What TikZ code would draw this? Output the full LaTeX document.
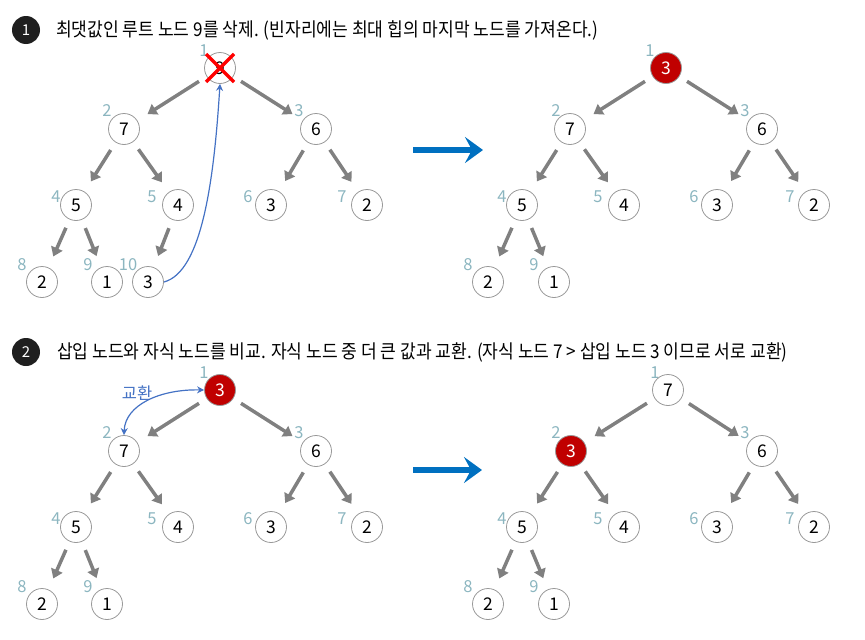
\documentclass[tikz,border=0pt]{standalone}
\usepackage{fontspec}
\setmainfont{Noto Sans CJK KR}
\newfontfamily\hdfont[FakeStretch=0.9]{Noto Sans CJK KR}
\usetikzlibrary{arrows.meta}
\definecolor{lblc}{RGB}{140,182,192}
\definecolor{edgec}{RGB}{128,128,128}
\definecolor{redc}{RGB}{192,0,0}
\definecolor{bluec}{RGB}{68,114,196}
\definecolor{bigblue}{RGB}{0,112,192}
\tikzset{
  hn/.style={circle, draw=edgec!80, line width=0.8pt, fill=white, minimum size=31pt, inner sep=0pt, font=\fontsize{17.5}{17.5}\selectfont},
  rn/.style={hn, fill=redc, text=white},
  lb/.style={text=lblc, inner sep=0pt, font=\fontsize{16.5}{16.5}\selectfont},
  ed/.style={draw=edgec, line width=3.5pt, -{Triangle[length=9pt,width=12pt]}, shorten <=9pt, shorten >=12pt},
  bigarr/.style={draw=bigblue, line width=6pt, -{Stealth[length=18pt,width=26pt,inset=7pt]}},
  hdcirc/.style={circle, fill=black!88, text=white, minimum size=28pt, inner sep=0pt, font=\fontsize{15}{15}\selectfont},
  hdtext/.style={anchor=west, inner sep=0pt, font=\hdfont\fontsize{19}{19}\selectfont},
  swap/.style={draw=bluec, line width=1.2pt},
}
\begin{document}
\begin{tikzpicture}[x=1pt,y=-1pt]
\useasboundingbox (0,0) rectangle (865,640);

% headers
\node[hdcirc] (h1) at (26,30) {1};
\node[hdtext] (t1) at (56,30) {최댓값인 루트 노드 9를 삭제. (빈자리에는 최대 힙의 마지막 노드를 가져온다.)};
\node[hdcirc] (h2) at (26,352) {2};
\node[hdtext] (t2) at (57,352) {삽입 노드와 자식 노드를 비교. 자식 노드 중 더 큰 값과 교환. (자식 노드 7 > 삽입 노드 3 이므로 서로 교환)};

% ---------- panel 1 left ----------
\begin{scope}
\foreach \i/\x/\y in {1/204/51,2/107/111,3/299/111,4/56/197,5/152/197,6/248/197,7/342/197,8/22/265,9/88/265,10/128/265}
  \node[lb] (al\i) at (\x,\y) {\i};
\node[hn] (a1) at (220,68) {9};
\node[hn] (a2) at (124,129) {7};
\node[hn] (a3) at (316,129) {6};
\node[hn] (a4) at (76,205) {5};
\node[hn] (a5) at (178,205) {4};
\node[hn] (a6) at (271,205) {3};
\node[hn] (a7) at (367,205) {2};
\node[hn] (a8) at (42,282) {2};
\node[hn] (a9) at (107,282) {1};
\node[hn] (a10) at (148,282) {3};
\foreach \p/\c in {1/2,1/3,2/4,2/5,3/6,3/7,4/8,4/9,5/10}
  \draw[ed] (a\p) -- (a\c);
\coordinate (xa) at (206,54);
\coordinate (xb) at (234,82);
\coordinate (xc) at (206,82);
\coordinate (xd) at (234,54);
\draw[red, line width=3.2pt] (xa) -- (xb) (xc) -- (xd);
\draw[swap, -{Stealth[length=7pt,width=7pt]}] (a10.east) .. controls (202,272) and (214,180) .. (a1.south);
\end{scope}

% ---------- panel 1 right ----------
\begin{scope}[shift={(446,0)}]
\foreach \i/\x/\y in {1/204/51,2/110/111,3/299/111,4/56/197,5/152/197,6/248/197,7/344/197,8/22/265,9/88/265}
  \node[lb] (bl\i) at (\x,\y) {\i};
\node[rn] (b1) at (220,68) {3};
\node[hn] (b2) at (124,129) {7};
\node[hn] (b3) at (316,129) {6};
\node[hn] (b4) at (76,205) {5};
\node[hn] (b5) at (178,205) {4};
\node[hn] (b6) at (271,205) {3};
\node[hn] (b7) at (368,205) {2};
\node[hn] (b8) at (42,282) {2};
\node[hn] (b9) at (108,282) {1};
\foreach \p/\c in {1/2,1/3,2/4,2/5,3/6,3/7,4/8,4/9}
  \draw[ed] (b\p) -- (b\c);
\end{scope}

% ---------- panel 2 left ----------
\begin{scope}[shift={(0,322)}]
\foreach \i/\x/\y in {1/204/51,2/107/111,3/299/111,4/56/197,5/152/197,6/248/197,7/342/197,8/22/265,9/88/265}
  \node[lb] (cl\i) at (\x,\y) {\i};
\node[rn] (c1) at (220,68) {3};
\node[hn] (c2) at (124,129) {7};
\node[hn] (c3) at (316,129) {6};
\node[hn] (c4) at (76,205) {5};
\node[hn] (c5) at (178,205) {4};
\node[hn] (c6) at (271,205) {3};
\node[hn] (c7) at (367,205) {2};
\node[hn] (c8) at (42,282) {2};
\node[hn] (c9) at (107,282) {1};
\foreach \p/\c in {1/2,1/3,2/4,2/5,3/6,3/7,4/8,4/9}
  \draw[ed] (c\p) -- (c\c);
\end{scope}
\draw[swap, {Stealth[length=7pt,width=7pt]}-{Stealth[length=7pt,width=7pt]}] (c2.north) .. controls (125,405) and (160,389) .. (c1.west);
\node[text=bluec, inner sep=0pt, font=\fontsize{16.5}{16.5}\selectfont] (swl) at (137,393) {교환};

% ---------- panel 2 right ----------
\begin{scope}[shift={(446,322)}]
\foreach \i/\x/\y in {1/209/51,2/110/111,3/299/111,4/56/197,5/152/197,6/248/197,7/344/197,8/22/265,9/88/265}
  \node[lb] (dl\i) at (\x,\y) {\i};
\node[hn] (d1) at (222,68) {7};
\node[rn] (d2) at (125,129) {3};
\node[hn] (d3) at (316,129) {6};
\node[hn] (d4) at (76,205) {5};
\node[hn] (d5) at (178,205) {4};
\node[hn] (d6) at (271,205) {3};
\node[hn] (d7) at (368,205) {2};
\node[hn] (d8) at (42,282) {2};
\node[hn] (d9) at (108,282) {1};
\foreach \p/\c in {1/2,1/3,2/4,2/5,3/6,3/7,4/8,4/9}
  \draw[ed] (d\p) -- (d\c);
\end{scope}

% big arrows
\coordinate (ba1) at (413,150);
\coordinate (ba2) at (483,150);
\coordinate (bb1) at (413,470);
\coordinate (bb2) at (482,470);
\draw[bigarr] (ba1) -- (ba2);
\draw[bigarr] (bb1) -- (bb2);
\end{tikzpicture}
\end{document}
